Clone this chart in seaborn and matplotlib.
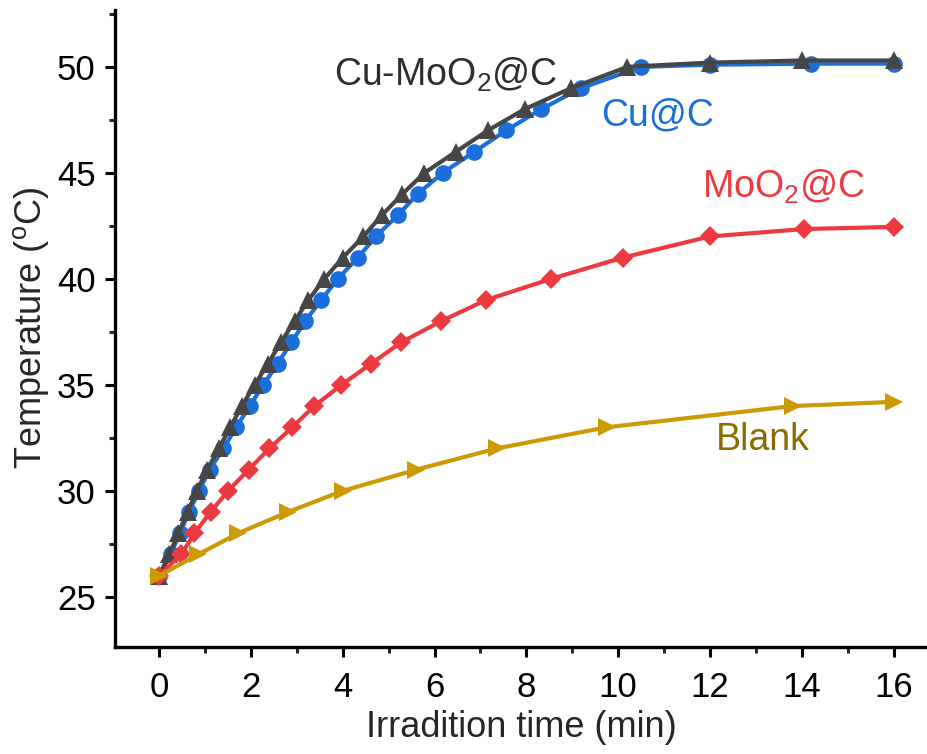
import matplotlib
matplotlib.use("Agg")
import matplotlib.pyplot as plt
from matplotlib.ticker import MultipleLocator
import seaborn as sns
import pandas as pd

# ---- data ----
cu_c_time = [0, 0.25, 0.45, 0.65, 0.87, 1.1, 1.4, 1.68, 1.97, 2.27, 2.58, 2.88, 3.18,
             3.53, 3.89, 4.33, 4.72, 5.2, 5.63, 6.18, 6.87, 7.56, 8.32, 9.2, 10.5,
             12.0, 14.2, 16.0]
cu_c_temp = [26, 27, 28, 29, 30, 31, 32, 33, 34, 35, 36, 37, 38,
             39, 40, 41, 42, 43, 44, 45, 46, 47, 48, 49, 50,
             50.1, 50.15, 50.15]

cumo_time = [0, 0.22, 0.42, 0.62, 0.82, 1.05, 1.3, 1.55, 1.8, 2.08, 2.37, 2.65, 2.95,
             3.25, 3.6, 4.0, 4.45, 4.85, 5.3, 5.78, 6.47, 7.16, 7.96, 8.98, 10.2,
             12.0, 14.0, 16.0]
cumo_temp = [26, 27, 28, 29, 30, 31, 32, 33, 34, 35, 36, 37, 38,
             39, 40, 41, 42, 43, 44, 45, 46, 47, 48, 49, 50,
             50.2, 50.3, 50.3]

mo_time = [0, 0.48, 0.77, 1.12, 1.5, 1.95, 2.4, 2.9, 3.38, 3.97, 4.62, 5.27, 6.14,
           7.12, 8.54, 10.1, 12.0, 14.05, 16.0]
mo_temp = [26, 27, 28, 29, 30, 31, 32, 33, 34, 35, 36, 37, 38,
           39, 40, 41, 42, 42.35, 42.45]

blank_time = [0, 0.85, 1.72, 2.8, 4.0, 5.6, 7.35, 9.75, 13.8, 16.0]
blank_temp = [26, 27, 28, 29, 30, 31, 32, 33, 34, 34.2]

x_ticks = [0, 2, 4, 6, 8, 10, 12, 14, 16]
y_ticks = [25, 30, 35, 40, 45, 50]

# ---- style ----
sns.set_style("ticks")
plt.rcParams["font.family"] = ["Liberation Sans", "DejaVu Sans"]
plt.rcParams["mathtext.fontset"] = "custom"
plt.rcParams["mathtext.rm"] = "Liberation Sans"
plt.rcParams["mathtext.it"] = "Liberation Sans"

fig = plt.figure(figsize=(9.28, 7.54), dpi=100)
ax = fig.add_axes([0.124, 0.142, 0.876, 0.845])

series = [
    (cu_c_time, cu_c_temp, "o", "#1b6fdc", 12),
    (cumo_time, cumo_temp, "^", "#464646", 12.5),
    (mo_time, mo_temp, "D", "#ec3a40", 10.5),
    (blank_time, blank_temp, ">", "#cc9a05", 13),
]
for t, v, m, c, ms in series:
    df = pd.DataFrame({"t": t, "v": v})
    sns.lineplot(data=df, x="t", y="v", marker=m, color=c, ax=ax,
                 markersize=ms, markeredgewidth=0, linewidth=3.0,
                 estimator=None, sort=False, legend=False)

ax.set_xlim(-0.96, 16.75)
ax.set_ylim(22.64, 52.69)
ax.set_xticks(x_ticks)
ax.set_yticks(y_ticks)
ax.xaxis.set_minor_locator(MultipleLocator(1))
ax.yaxis.set_minor_locator(MultipleLocator(2.5))

for s in ["top", "right"]:
    ax.spines[s].set_visible(False)
for s in ["left", "bottom"]:
    ax.spines[s].set_linewidth(2.4)
    ax.spines[s].set_color("black")

ax.tick_params(axis="both", which="major", direction="out", length=7, width=2.2,
               labelsize=25, colors="black", pad=7)
ax.tick_params(axis="x", which="major", pad=10)
ax.tick_params(axis="both", which="minor", direction="out", length=4.5, width=2.2)

ax.set_xlabel("Irradition time (min)", fontsize=26, labelpad=5)
ax.set_ylabel(r"Temperature ($^\mathregular{o}$C)", fontsize=26, labelpad=4)

ax.text(6.25, 49.6, r"Cu-MoO$\mathregular{_2}$@C", fontsize=27, color="#2e2e2e",
        ha="center", va="center")
ax.text(10.85, 47.7, "Cu@C", fontsize=27, color="#1b6fdc", ha="center", va="center")
ax.text(13.6, 44.35, r"MoO$\mathregular{_2}$@C", fontsize=27, color="#ec3a40",
        ha="center", va="center")
ax.text(13.15, 32.4, "Blank", fontsize=27, color="#8a6c00", ha="center", va="center")

fig.savefig("out.png", dpi=100)
